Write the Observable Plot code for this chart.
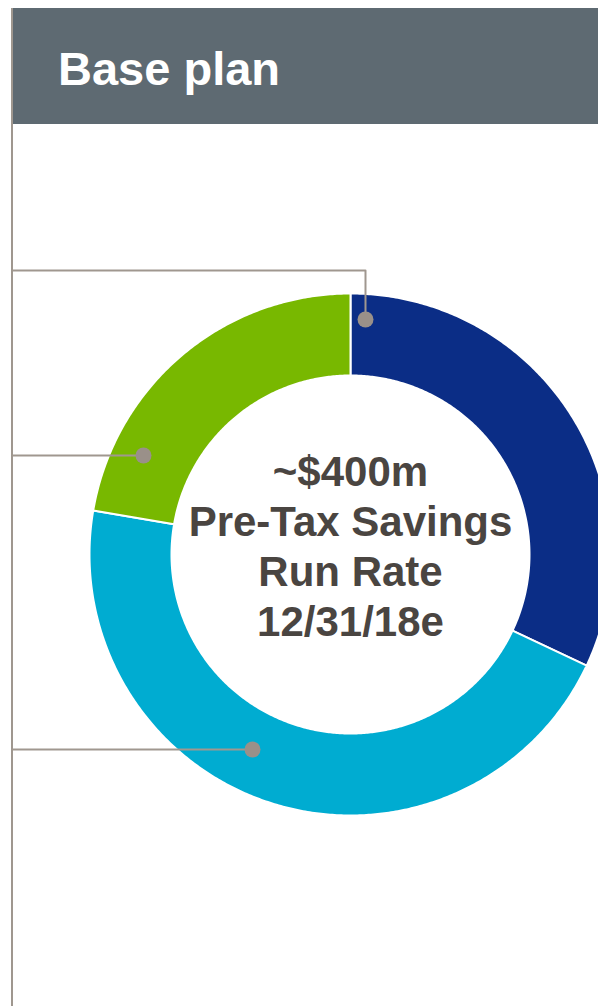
<!DOCTYPE html>
<html>
<head>
<meta charset="utf-8">
<script src="https://cdn.jsdelivr.net/npm/d3@7"></script>
<script src="https://cdn.jsdelivr.net/npm/@observablehq/plot@0.6"></script>
<style>
  html, body { margin: 0; padding: 0; background: #fff; overflow: hidden; }
  body { width: 598px; height: 1006px; position: relative; font-family: "Liberation Sans", Arial, sans-serif; }
  #vline { position: absolute; left: 11px; top: 8px; width: 2px; height: 998px; background: #9f978f; }
  #header { position: absolute; left: 13px; top: 8px; width: 585px; height: 116px; background: #5e6a72; }
  #header span { position: absolute; left: 45px; top: 37px; font-size: 47px; line-height: 47px; font-weight: bold; color: #fff; white-space: nowrap; }
  #chart { position: absolute; left: 0; top: 124px; }
  #chart svg { display: block; overflow: hidden; }
</style>
</head>
<body>
<div id="header"><span>Base plan</span></div>
<div id="vline"></div>
<div id="chart"></div>
<script>
// ---- data ----
const categories = ["Segment A", "Segment B", "Segment C"];
const values = [32, 45.7, 22.3];         // share of ~$400m run rate (%)
const colors = ["#0b2d86", "#00acd1", "#78b800"];
const centerLines = ["~$400m", "Pre-Tax Savings", "Run Rate", "12/31/18e"];

// ---- layout ----
const W = 598, H = 882;
const R = 261;                 // outer radius px
const CX = 350, CY = 430;      // donut center in svg px
const innerFrac = 179 / R;
// callout dot positions (in radius units, relative to center) and elbow heights
const callouts = [
  {seg: 0, dx: 15 / R, dy: 235 / R, elbowY: 284 / R},
  {seg: 2, dx: -207 / R, dy: 99 / R, elbowY: 99 / R},
  {seg: 1, dx: -98 / R, dy: -195 / R, elbowY: -195 / R}
];
const leftX = (12 - CX) / R;

const pie = d3.pie().sort(null).value(d => d.value);
const arcs = pie(categories.map((c, i) => ({category: c, value: values[i], color: colors[i]})));

const pts = [];
arcs.forEach(a => {
  const n = Math.max(2, Math.ceil((a.endAngle - a.startAngle) / (Math.PI / 360)) + 1);
  for (let k = 0; k < n; k++) {
    const t = a.startAngle + (a.endAngle - a.startAngle) * k / (n - 1);
    pts.push({category: a.data.category, color: a.data.color, x: Math.sin(t), y: Math.cos(t)});
  }
  for (let k = n - 1; k >= 0; k--) {
    const t = a.startAngle + (a.endAngle - a.startAngle) * k / (n - 1);
    pts.push({category: a.data.category, color: a.data.color, x: innerFrac * Math.sin(t), y: innerFrac * Math.cos(t)});
  }
});

const leaderPts = [];
callouts.forEach((c, i) => {
  leaderPts.push({id: i, x: leftX, y: c.elbowY});
  leaderPts.push({id: i, x: c.dx, y: c.elbowY});
  leaderPts.push({id: i, x: c.dx, y: c.dy});
});

const chart = Plot.plot({
  width: W,
  height: H,
  margin: 0,
  style: {background: "transparent", overflow: "hidden"},
  x: {domain: [-CX / R, (W - CX) / R], axis: null},
  y: {domain: [-(H - CY) / R, CY / R], axis: null},
  marks: [
    Plot.line(pts, {x: "x", y: "y", z: "category", fill: "color", stroke: "#ffffff", strokeWidth: 2, curve: "linear-closed"}),
    Plot.line(leaderPts, {x: "x", y: "y", z: "id", stroke: "#a0978f", strokeWidth: 2}),
    Plot.dot(callouts, {x: "dx", y: "dy", r: 8, fill: "#9a9089", stroke: null}),
    Plot.text([centerLines.join("\n")], {
      x: () => 0, y: () => 0, text: d => d,
      fontSize: 42, fontWeight: "bold", fill: "#4a4541",
      fontFamily: "Liberation Sans, Arial, sans-serif",
      lineHeight: 50 / 42, dy: -10
    })
  ]
});
document.getElementById("chart").appendChild(chart);
</script>
</body>
</html>
